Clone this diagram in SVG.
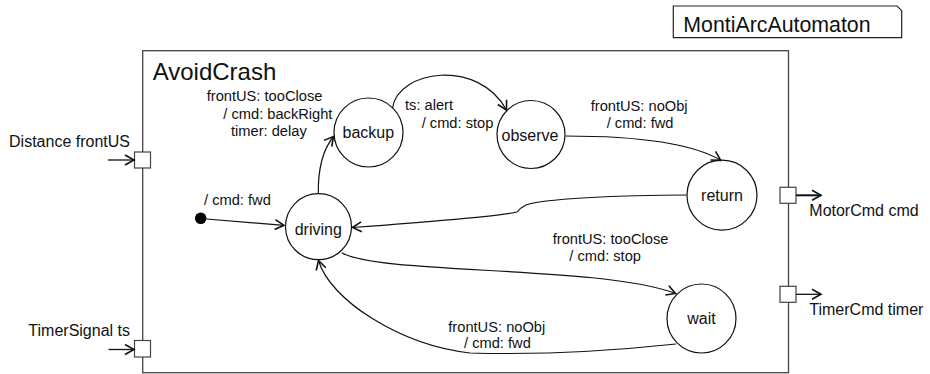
<svg xmlns="http://www.w3.org/2000/svg" width="930" height="374" viewBox="0 0 930 374">
<style>
text{font-family:"Liberation Sans",Arial,sans-serif;fill:#111}
.lbl{font-size:14.67px}
.st{font-size:16px;text-anchor:middle}
.port{font-size:16px}
.state{fill:#fff;stroke:#111;stroke-width:1.2}
.sq{fill:#fff;stroke:#444;stroke-width:1.2}
.edge{fill:none;stroke:#111;stroke-width:1.2;marker-end:url(#arr)}
.parr{fill:none;stroke:#111;stroke-width:1.3;marker-end:url(#arr)}
</style>
<defs>
<marker id="arr" markerUnits="userSpaceOnUse" markerWidth="12" markerHeight="12" refX="10" refY="6" orient="auto" overflow="visible">
<path d="M1,1 L10,6 L1,11" fill="none" stroke="#111" stroke-width="1.6"/>
</marker>
</defs>
<g id="montiarc">
<path d="M673.3,6 L897,6 L901.7,10.7 L901.7,37.7 L673.3,37.7 Z" fill="#fff" stroke="#222" stroke-width="1.2"/>
<text x="683.3" y="31.7" style="font-size:21.33px">MontiArcAutomaton</text>
</g>
<g id="AvoidCrash">
<rect x="142.7" y="50.7" width="645.8" height="322" fill="#fff" stroke="#444" stroke-width="1.3"/>
<text x="152.7" y="80" style="font-size:24px">AvoidCrash</text>
</g>
<g id="port-frontUS">
<rect class="sq" x="134.5" y="152" width="16" height="16"/>
<line class="parr" x1="108" y1="160" x2="134" y2="160"/>
<text class="port" x="130" y="147" text-anchor="end">Distance frontUS</text>
</g>
<g id="port-ts">
<rect class="sq" x="134.5" y="340.5" width="16" height="16.5"/>
<line class="parr" x1="108.5" y1="349.5" x2="134" y2="349.5"/>
<text class="port" x="130" y="336.3" text-anchor="end">TimerSignal ts</text>
</g>
<g id="port-cmd">
<rect class="sq" x="780" y="187.3" width="16" height="16"/>
<line x1="796" y1="195.3" x2="821" y2="195.3" fill="none" stroke="#111" stroke-width="2" marker-end="url(#arr)"/>
<text class="port" x="809.3" y="215.5">MotorCmd cmd</text>
</g>
<g id="port-timer">
<rect class="sq" x="780" y="286.3" width="16" height="16"/>
<line class="parr" x1="796" y1="294.3" x2="821" y2="294.3"/>
<text class="port" x="809.3" y="315">TimerCmd timer</text>
</g>
<g id="initial">
<circle cx="200.7" cy="218.3" r="5.8" fill="#000"/>
</g>
<g id="driving">
<circle class="state" cx="318.5" cy="226.7" r="33"/>
<text class="st" x="318.3" y="235">driving</text>
</g>
<g id="backup">
<circle class="state" cx="368.5" cy="132.5" r="34.5"/>
<text class="st" x="368.3" y="138.3">backup</text>
</g>
<g id="observe">
<circle class="state" cx="531" cy="134.5" r="34"/>
<text class="st" x="530" y="141">observe</text>
</g>
<g id="return">
<circle class="state" cx="722" cy="195.2" r="35"/>
<text class="st" x="722" y="201">return</text>
</g>
<g id="wait">
<circle class="state" cx="701.5" cy="318.5" r="34.5"/>
<text class="st" x="701.5" y="324.3">wait</text>
</g>
<g id="connectors">
<path class="edge" d="M206.5,219 L284,225.3"/>
<path class="edge" d="M318.3,193.7 C318,175 321,152 333.5,136.5"/>
<path class="edge" d="M392.5,108 C398,70 478,58 506.5,110"/>
<path class="edge" d="M565.3,136 C630,136 690,142 720.7,160.3"/>
<path class="edge" d="M686.7,195 C620,195 540,199 526,205 Q520,208 517,212 C505,215 440,221 352.5,227.5"/>
<path class="edge" d="M341.7,252.7 C380,275 600,265 675.5,293.5"/>
<path class="edge" d="M676,344 C620,350 540,355 470,353 C400,345 330,300 318.5,260.5"/>
<text class="lbl" x="204" y="205">/ cmd: fwd</text>
<text class="lbl" x="206.7" y="101">frontUS: tooClose</text>
<text class="lbl" x="223.3" y="118.5">/ cmd: backRight</text>
<text class="lbl" x="231" y="136">timer: delay</text>
<text class="lbl" x="405" y="110.3">ts: alert</text>
<text class="lbl" x="421.7" y="128">/ cmd: stop</text>
<text class="lbl" x="590.7" y="110.7">frontUS: noObj</text>
<text class="lbl" x="606.7" y="127.7">/ cmd: fwd</text>
<text class="lbl" x="552.7" y="244.3">frontUS: tooClose</text>
<text class="lbl" x="569.3" y="261">/ cmd: stop</text>
<text class="lbl" x="448.3" y="331.7">frontUS: noObj</text>
<text class="lbl" x="464" y="348.3">/ cmd: fwd</text>
</g>
</svg>
